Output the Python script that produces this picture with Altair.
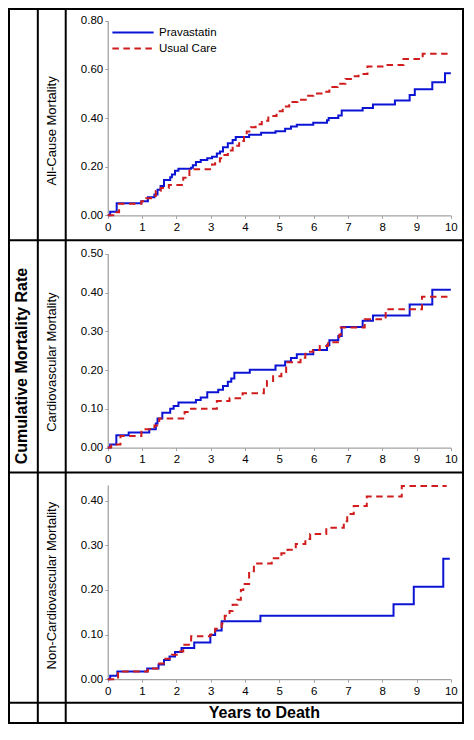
import altair as alt
import pandas as pd

# ---------------- data ----------------
groups = ["Pravastatin", "Usual Care"]

all_prav_t = [0, 0.07, 0.26, 0.98, 1.17, 1.36, 1.45, 1.54, 1.64, 1.82,
              1.87, 1.96, 2.06, 2.43, 2.48, 2.57, 2.71, 2.90, 3.04, 3.18,
              3.27, 3.36, 3.50, 3.64, 3.73, 4.12, 4.47, 4.89, 5.17, 5.34,
              5.51, 5.99, 6.39, 6.44, 6.72, 6.82, 7.43, 7.73, 8.37, 8.80,
              8.95, 9.46, 9.83, 10.0]
all_prav_v = [0, 0.015, 0.05, 0.058, 0.074, 0.086, 0.105, 0.121, 0.145, 0.157,
              0.168, 0.183, 0.192, 0.196, 0.206, 0.219, 0.228, 0.235, 0.241, 0.254,
              0.263, 0.28, 0.297, 0.31, 0.322, 0.332, 0.34, 0.346, 0.356, 0.365,
              0.373, 0.381, 0.391, 0.40, 0.411, 0.431, 0.442, 0.456, 0.472, 0.495,
              0.519, 0.547, 0.585, 0.585]

all_uc_t = [0, 0.19, 0.33, 0.98, 1.12, 1.26, 1.40, 1.54, 1.78, 2.20,
            2.38, 3.04, 3.13, 3.27, 3.36, 3.50, 3.64, 3.83, 3.97, 4.05,
            4.17, 4.31, 4.49, 4.68, 4.92, 5.10, 5.29, 5.53, 5.77, 5.99,
            6.23, 6.46, 6.70, 6.93, 7.12, 7.31, 7.57, 8.10, 8.62, 9.18,
            10.0]
all_uc_v = [0, 0.013, 0.048, 0.058, 0.07, 0.08, 0.1, 0.112, 0.125, 0.155,
            0.19, 0.209, 0.222, 0.235, 0.248, 0.267, 0.286, 0.306, 0.328, 0.345,
            0.362, 0.375, 0.389, 0.409, 0.428, 0.448, 0.466, 0.476, 0.492, 0.501,
            0.508, 0.528, 0.541, 0.561, 0.572, 0.581, 0.612, 0.618, 0.643, 0.665,
            0.665]

cv_prav_t = [0, 0.07, 0.25, 0.61, 1.21, 1.40, 1.45, 1.59, 1.82, 1.92,
             2.06, 2.57, 2.71, 2.90, 3.22, 3.36, 3.50, 3.60, 3.69, 4.14,
             4.89, 5.17, 5.34, 5.51, 5.99, 6.39, 6.46, 6.72, 6.82, 7.43,
             7.73, 8.80, 9.46, 10.0]
cv_prav_v = [0, 0.008, 0.032, 0.039, 0.047, 0.062, 0.075, 0.09, 0.10, 0.107,
             0.116, 0.123, 0.129, 0.143, 0.149, 0.159, 0.17, 0.178, 0.193, 0.201,
             0.212, 0.222, 0.231, 0.241, 0.252, 0.264, 0.277, 0.288, 0.311, 0.327,
             0.341, 0.369, 0.407, 0.407]

cv_uc_t = [0, 0.10, 0.37, 0.98, 1.36, 1.50, 2.24, 2.38, 3.18, 3.55,
           3.93, 4.55, 4.64, 4.82, 5.06, 5.20, 5.62, 5.76, 5.99, 6.18,
           6.42, 6.75, 6.79, 7.49, 8.10, 9.16, 10.0]
cv_uc_v = [0, 0.008, 0.03, 0.047, 0.057, 0.075, 0.092, 0.10, 0.12, 0.127,
           0.14, 0.154, 0.172, 0.184, 0.195, 0.22, 0.232, 0.247, 0.252, 0.262,
           0.272, 0.291, 0.31, 0.331, 0.357, 0.389, 0.389]

ncv_prav_t = [0, 0.07, 0.28, 1.15, 1.48, 1.64, 1.80, 1.96, 2.15, 2.52,
              2.99, 3.13, 3.32, 4.45, 8.33, 8.92, 9.78, 9.97]
ncv_prav_v = [0, 0.008, 0.017, 0.024, 0.033, 0.043, 0.051, 0.061, 0.07, 0.082,
              0.099, 0.109, 0.13, 0.142, 0.168, 0.207, 0.27, 0.27]

ncv_uc_t = [0, 0.30, 1.17, 1.50, 1.68, 1.87, 2.01, 2.20, 2.43, 2.99,
            3.13, 3.32, 3.41, 3.55, 3.64, 3.78, 3.88, 3.95, 4.12, 4.26,
            4.78, 5.06, 5.24, 5.48, 5.76, 5.90, 6.37, 6.88, 6.98, 7.17,
            7.55, 8.57, 9.88]
ncv_uc_v = [0, 0.017, 0.024, 0.035, 0.046, 0.055, 0.062, 0.077, 0.096, 0.10,
            0.113, 0.125, 0.142, 0.153, 0.167, 0.178, 0.2, 0.213, 0.242, 0.259,
            0.271, 0.282, 0.29, 0.303, 0.314, 0.325, 0.339, 0.354, 0.37, 0.388,
            0.409, 0.433, 0.433]

x_ticks = [0, 1, 2, 3, 4, 5, 6, 7, 8, 9, 10]
all_ticks = [0, 0.2, 0.4, 0.6, 0.8]
cv_ticks = [0, 0.1, 0.2, 0.3, 0.4, 0.5]
ncv_ticks = [0, 0.1, 0.2, 0.3, 0.4]

panel_titles = ["All-Cause Mortality", "Cardiovascular Mortality",
                "Non-Cardiovascular Mortality"]
row_title = "Cumulative Mortality Rate"
x_title = "Years to Death"


def frame(t_a, v_a, t_b, v_b):
    a = pd.DataFrame({"year": t_a, "rate": v_a, "group": groups[0]})
    b = pd.DataFrame({"year": t_b, "rate": v_b, "group": groups[1]})
    return pd.concat([a, b], ignore_index=True)


df_all = frame(all_prav_t, all_prav_v, all_uc_t, all_uc_v)
df_cv = frame(cv_prav_t, cv_prav_v, cv_uc_t, cv_uc_v)
df_ncv = frame(ncv_prav_t, ncv_prav_v, ncv_uc_t, ncv_uc_v)

# ---------------- layout ----------------
W, H = 456, 716
SX, SY = W / 474, H / 740
FONT = "Liberation Sans"
BLUE = "#0c14d4"
RED = "#d01c1c"
AXIS_GREY = "#a3a3a3"

X_RANGE = [103.7 * SX, 460.3 * SX]

legend = alt.Legend(
    title=None, orient="none", legendX=103, legendY=18.5,
    symbolType="stroke", symbolSize=1700, symbolStrokeWidth=2,
    clipHeight=12,
    labelFont=FONT, labelFontSize=11.5, labelColor="black",
    labelOffset=4, rowPadding=4, padding=0,
)
color = alt.Color("group:N", scale=alt.Scale(domain=groups, range=[BLUE, RED]),
                  legend=legend)
dash = alt.StrokeDash("group:N",
                      scale=alt.Scale(domain=groups, range=[[1, 0], [6.5, 4.5]]),
                      legend=legend)


def panel(df, y0, ytop, dmax, ticks):
    yr = [y0 * SY, ytop * SY]
    return alt.Chart(df).mark_line(
        interpolate="step-after", strokeWidth=2, strokeCap="butt"
    ).encode(
        x=alt.X("year:Q",
                scale=alt.Scale(domain=[0, 10], range=X_RANGE, nice=False, zero=False),
                axis=alt.Axis(values=x_ticks, format="d", orient="bottom",
                              offset=yr[0] - H, title=None, labelPadding=3,
                              labelFlush=False)),
        y=alt.Y("rate:Q",
                scale=alt.Scale(domain=[0, dmax], range=yr, nice=False, zero=True),
                axis=alt.Axis(values=ticks, format=".2f", orient="left",
                              offset=-X_RANGE[0], title=None, labelPadding=2,
                              labelFlush=False)),
        color=color,
        strokeDash=dash,
        order=alt.Order("year:Q"),
    )


p1 = panel(df_all, 214.3, 13.3, 0.8, all_ticks)
p2 = panel(df_cv, 454.3, 254.0, 0.5, cv_ticks)
p3 = panel(df_ncv, 693.7, 493.0, 0.435, ncv_ticks)

dummy = alt.Data(values=[{"k": 1}])

border = alt.Chart(dummy).mark_rect(fillOpacity=0, stroke="black", strokeWidth=2).encode(
    x=alt.value(1), x2=alt.value(W - 1), y=alt.value(1), y2=alt.value(H - 1))


def hline(y):
    return alt.Chart(dummy).mark_rule(color="black", strokeWidth=2).encode(
        x=alt.value(0), x2=alt.value(W), y=alt.value(y * SY))


def vline(x):
    return alt.Chart(dummy).mark_rule(color="black", strokeWidth=2).encode(
        x=alt.value(x * SX), y=alt.value(0), y2=alt.value(H))


def label(text, x, y, size, bold=False, angle=0):
    kw = dict(font=FONT, fontSize=size, fontWeight="bold" if bold else "normal",
              align="center", baseline="middle", color="black")
    if angle:
        kw["angle"] = angle
    return alt.Chart(dummy).mark_text(**kw).encode(
        x=alt.value(x * SX), y=alt.value(y * SY), text=alt.value(text))


lines = [hline(240), hline(480), hline(718), vline(31), vline(60)]
texts = [
    label(row_title, 15, 370, 16, bold=True, angle=270),
    label(panel_titles[0], 46, 127, 13, angle=270),
    label(panel_titles[1], 46, 366, 13, angle=270),
    label(panel_titles[2], 46, 597, 13, angle=270),
    label(x_title, 266.5, 728.5, 16, bold=True),
]

chart = alt.layer(p1, p2, p3, border, *lines, *texts).resolve_scale(
    x="independent", y="independent"
).properties(
    width=W, height=H, padding=0,
    autosize=alt.AutoSizeParams(type="none"),
    background="white",
).configure_view(
    strokeWidth=0
).configure_axis(
    domainColor=AXIS_GREY, domainWidth=1.3, tickColor=AXIS_GREY, tickSize=3,
    tickWidth=1, labelColor="black", labelFont=FONT, labelFontSize=11.5,
    grid=False,
)

chart.save("out.html", embed_options={"renderer": "svg", "actions": False})
